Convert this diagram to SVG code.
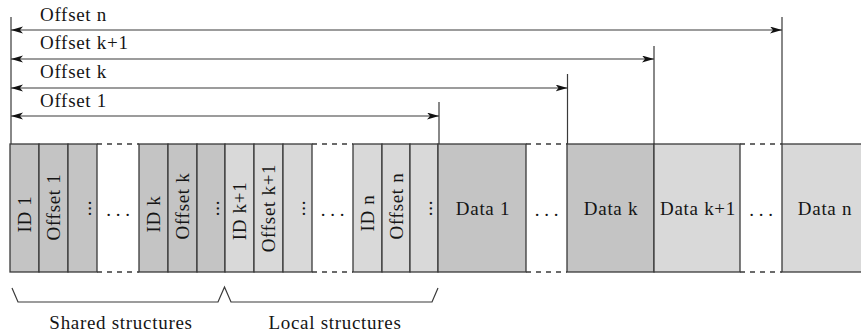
<svg xmlns="http://www.w3.org/2000/svg" width="861" height="335" viewBox="0 0 861 335">
<style>
text{font-family:"Liberation Serif","Times New Roman",serif;font-size:19px;fill:#151515;letter-spacing:0.7px}
.dk{fill:#c4c4c4;stroke:#3a3a3a;stroke-width:1.3}
.lt{fill:#d9d9d9;stroke:#3a3a3a;stroke-width:1.3}
.ln{stroke:#3a3a3a;stroke-width:1.2;fill:none}
.dash{stroke:#3a3a3a;stroke-width:1.3;stroke-dasharray:5 5;fill:none}
.arr{stroke:#3a3a3a;stroke-width:1.2;fill:none;marker-start:url(#ah);marker-end:url(#ah)}
.c{text-anchor:middle}
</style>
<defs>
<marker id="ah" markerUnits="userSpaceOnUse" markerWidth="14" markerHeight="8" refX="12" refY="3.5" orient="auto-start-reverse">
<path d="M0,0 L12,3.5 L0,7 L3,3.5 z" fill="#111"/>
</marker>
</defs>
<rect width="861" height="335" fill="#fff"/>

<g id="cell-id1"><rect class="dk" x="10" y="144" width="29" height="128"/><text class="c" transform="translate(31,214) rotate(-90)">ID 1</text></g>
<g id="cell-off1"><rect class="dk" x="39" y="144" width="29" height="128"/><text class="c" transform="translate(60,207) rotate(-90)">Offset 1</text></g>
<g id="cell-more1"><rect class="dk" x="68" y="144" width="29" height="128"/><text class="c" transform="translate(91,208) rotate(-90)">...</text></g>
<g id="gap1"><text class="c" x="118" y="216" style="letter-spacing:0">. . .</text></g>
<g id="cell-idk"><rect class="dk" x="139" y="144" width="29" height="128"/><text class="c" transform="translate(160,214) rotate(-90)">ID k</text></g>
<g id="cell-offk"><rect class="dk" x="168" y="144" width="29" height="128"/><text class="c" transform="translate(189,206) rotate(-90)">Offset k</text></g>
<g id="cell-morek"><rect class="dk" x="197" y="144" width="28" height="128"/><text class="c" transform="translate(219,208) rotate(-90)">...</text></g>
<g id="cell-idk1"><rect class="lt" x="225" y="144" width="29" height="128"/><text class="c" transform="translate(246,211) rotate(-90)">ID k+1</text></g>
<g id="cell-offk1"><rect class="lt" x="254" y="144" width="29" height="128"/><text class="c" transform="translate(275,208) rotate(-90)">Offset k+1</text></g>
<g id="cell-morek1"><rect class="lt" x="283" y="144" width="29" height="128"/><text class="c" transform="translate(305,208) rotate(-90)">...</text></g>
<g id="gap2"><text class="c" x="332.5" y="216" style="letter-spacing:0">. . .</text></g>
<g id="cell-idn"><rect class="lt" x="353" y="144" width="29" height="128"/><text class="c" transform="translate(374,213) rotate(-90)">ID n</text></g>
<g id="cell-offn"><rect class="lt" x="382" y="144" width="28" height="128"/><text class="c" transform="translate(403,206) rotate(-90)">Offset n</text></g>
<g id="cell-moren"><rect class="lt" x="410" y="144" width="28" height="128"/><text class="c" transform="translate(432,208) rotate(-90)">...</text></g>
<g id="data1"><rect class="dk" x="438" y="144" width="88" height="128"/><text class="c" x="483" y="215">Data 1</text></g>
<g id="gap3"><text class="c" x="546.5" y="216" style="letter-spacing:0">. . .</text></g>
<g id="datak"><rect class="dk" x="567" y="144" width="87" height="128"/><text class="c" x="611" y="215">Data k</text></g>
<g id="datak1"><rect class="lt" x="654" y="144" width="86" height="128"/><text class="c" x="698" y="215">Data k+1</text></g>
<g id="gap4"><text class="c" x="761" y="216" style="letter-spacing:0">. . .</text></g>
<g id="datan"><rect class="lt" x="782" y="144" width="85" height="128"/><text class="c" x="825" y="215">Data n</text></g>

<g id="connectors">
<path class="dash" d="M97,144 H139 M312,144 H353 M526,144 H567 M740,144 H782 M97,272 H139 M312,272 H353 M526,272 H567 M740,272 H782"/>
<path class="ln" d="M11,17 V144 M439,102 V144 M567.5,74 V144 M654,46 V144 M782,17 V144"/>
<path class="arr" d="M11,30 H782"/>
<path class="arr" d="M11,59 H654"/>
<path class="arr" d="M11,88 H567.5"/>
<path class="arr" d="M11,116 H439"/>
<path class="ln" d="M12,288 L18,302 H218 L224.5,287 L231,302 H432 L438,288"/>
</g>

<g id="labels">
<text x="40" y="21">Offset n</text>
<text x="40" y="49">Offset k+1</text>
<text x="40" y="78">Offset k</text>
<text x="40" y="107">Offset 1</text>
<text class="c" x="121" y="329">Shared structures</text>
<text class="c" x="335" y="329">Local structures</text>
</g>
</svg>
